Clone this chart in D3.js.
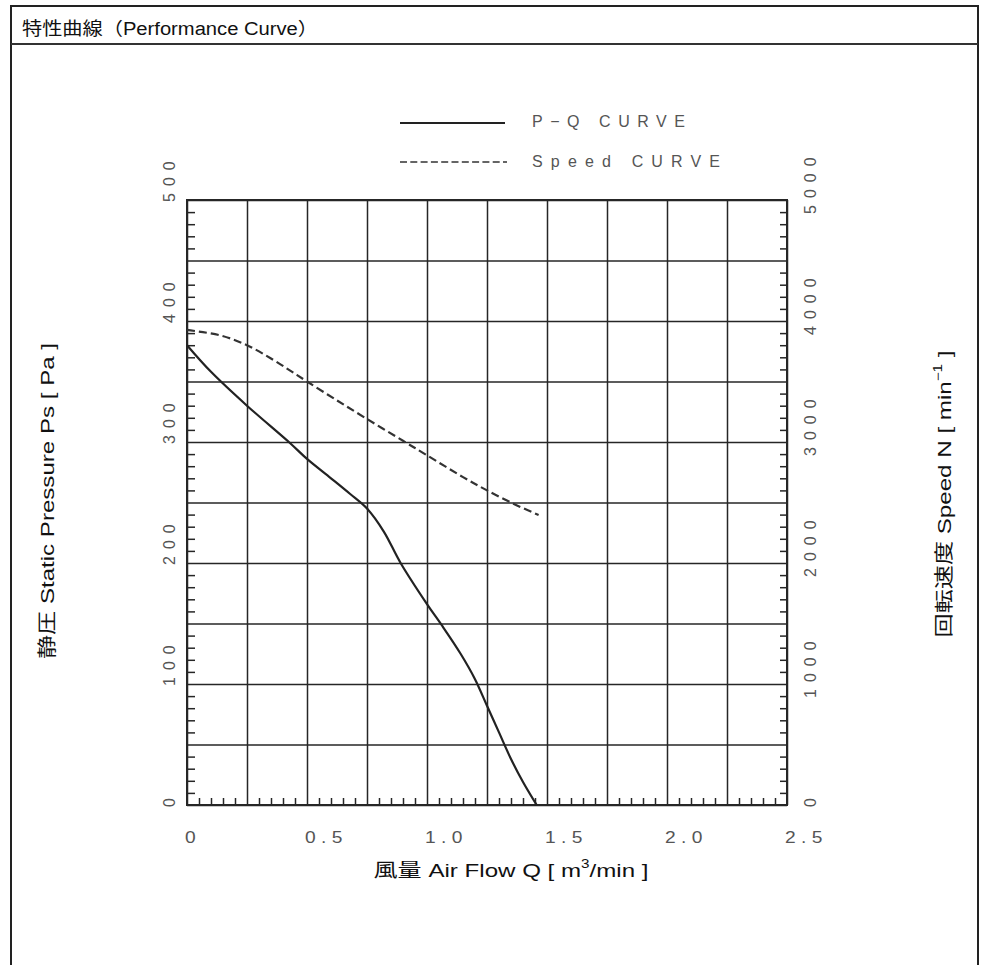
<!DOCTYPE html>
<html>
<head>
<meta charset="utf-8">
<script src="https://cdn.jsdelivr.net/npm/d3@7"></script>
<style>
  body { margin: 0; background: #fff; }
</style>
</head>
<body>
<div id="chart"></div>
<script>
// values
const flowTicks = [0, 0.5, 1.0, 1.5, 2.0, 2.5];
const flowLabels = ["0", "0.5", "1.0", "1.5", "2.0", "2.5"];
const pressTicks = [0, 100, 200, 300, 400, 500];
const speedTicks = [0, 1000, 2000, 3000, 4000, 5000];

// P-Q curve (Q m3/min, Ps Pa)
const pqFlow =     [0,   0.1, 0.25, 0.43, 0.5, 0.6, 0.68, 0.75, 0.82, 0.89, 1.0, 1.06, 1.14, 1.2, 1.25, 1.3, 1.35, 1.4, 1.457];
const pqPressure = [380, 358, 330,  299,  286, 270, 257,  245,  226,  200,  166, 149,  125,  104, 82,   60,  38,   19,  0];

// speed curve (Q m3/min, N min-1)
const spFlow =  [0,    0.14, 0.25, 0.35, 0.43, 0.5,  0.62, 0.75, 0.9,  1.0,  1.15, 1.25, 1.36, 1.465];
const spSpeed = [3926, 3880, 3800, 3690, 3590, 3500, 3350, 3190, 3010, 2890, 2710, 2600, 2490, 2397];

const legendNames = ["P\u2212Q  CURVE", "Speed  CURVE"];

// frame
const W = 987, H = 965;
const PLOT = {left: 187, right: 787, top: 200, bottom: 805};

const svg = d3.select('#chart')
  .append('svg')
  .attr('width', W)
  .attr('height', H);

const FONT = '"Liberation Sans", Arial, "Noto Sans CJK JP", sans-serif';

// outer box + title row
svg.append('rect')
  .attr('x', 11).attr('y', 6)
  .attr('width', 967).attr('height', 990)
  .attr('fill', 'none')
  .attr('stroke', '#222')
  .attr('stroke-width', 2);
svg.append('line')
  .attr('x1', 11).attr('x2', 978)
  .attr('y1', 44).attr('y2', 44)
  .attr('stroke', '#333')
  .attr('stroke-width', 2);
svg.append('text')
  .attr('x', 22).attr('y', 35)
  .attr('font-family', FONT)
  .attr('font-size', 18)
  .attr('fill', '#111')
  .attr('textLength', 296)
  .attr('lengthAdjust', 'spacingAndGlyphs')
  .text('特性曲線（Performance Curve）');

// scales
const x = d3.scaleLinear().domain([0, 2.5]).range([PLOT.left, PLOT.right]);
const yP = d3.scaleLinear().domain([0, 500]).range([PLOT.bottom, PLOT.top]);
const yN = d3.scaleLinear().domain([0, 5000]).range([PLOT.bottom, PLOT.top]);

const GRID = '#262626';

// grid lines
svg.append('g')
  .attr('transform', `translate(0,${PLOT.bottom})`)
  .call(d3.axisBottom(x).tickValues(d3.range(0, 11).map(i => i * 0.25))
    .tickSize(-(PLOT.bottom - PLOT.top)).tickFormat(''))
  .call(g => g.select('.domain').remove())
  .selectAll('line').attr('stroke', GRID).attr('stroke-width', 1.5);

svg.append('g')
  .attr('transform', `translate(${PLOT.left},0)`)
  .call(d3.axisLeft(yP).tickValues(d3.range(0, 11).map(i => i * 50))
    .tickSize(-(PLOT.right - PLOT.left)).tickFormat(''))
  .call(g => g.select('.domain').remove())
  .selectAll('line').attr('stroke', GRID).attr('stroke-width', 1.5);

// minor ticks, pointing inward
const minorP = d3.range(0, 501, 10).filter(v => v % 50 !== 0);
const minorN = d3.range(0, 5001, 100).filter(v => v % 500 !== 0);
const minorQ = d3.range(0, 51).map(i => i * 0.05).filter((v, i) => i % 5 !== 0);

svg.append('g')
  .attr('transform', `translate(${PLOT.left},0)`)
  .call(d3.axisLeft(yP).tickValues(minorP).tickSize(-8).tickFormat(''))
  .call(g => g.select('.domain').remove())
  .selectAll('line').attr('stroke', GRID).attr('stroke-width', 1.5);

svg.append('g')
  .attr('transform', `translate(${PLOT.right},0)`)
  .call(d3.axisRight(yN).tickValues(minorN).tickSize(-7).tickFormat(''))
  .call(g => g.select('.domain').remove())
  .selectAll('line').attr('stroke', GRID).attr('stroke-width', 1.5);

svg.append('g')
  .attr('transform', `translate(0,${PLOT.bottom})`)
  .call(d3.axisBottom(x).tickValues(minorQ).tickSize(-7).tickFormat(''))
  .call(g => g.select('.domain').remove())
  .selectAll('line').attr('stroke', GRID).attr('stroke-width', 1.5);

// plot border
svg.append('rect')
  .attr('x', PLOT.left).attr('y', PLOT.top)
  .attr('width', PLOT.right - PLOT.left)
  .attr('height', PLOT.bottom - PLOT.top)
  .attr('fill', 'none')
  .attr('stroke', GRID)
  .attr('stroke-width', 2);

// tick labels (plotter style, wide and spaced out)
const TICK = '#555';
svg.append('g').selectAll('text')
  .data(flowTicks)
  .join('text')
  .attr('transform', d => `translate(${x(d) - 2},843) scale(1.2,1)`)
  .attr('font-family', FONT)
  .attr('font-size', 16)
  .attr('letter-spacing', 4.5)
  .attr('fill', TICK)
  .text((d, i) => flowLabels[i]);

svg.append('g').selectAll('text')
  .data(pressTicks)
  .join('text')
  .attr('transform', d => `translate(175,${yP(d) + 2}) rotate(-90)`)
  .attr('font-family', FONT)
  .attr('font-size', 16)
  .attr('letter-spacing', 7)
  .attr('fill', TICK)
  .text(d => d);

svg.append('g').selectAll('text')
  .data(speedTicks)
  .join('text')
  .attr('transform', d => `translate(816,${yN(d) + (d === 0 ? 2 : 14)}) rotate(-90)`)
  .attr('font-family', FONT)
  .attr('font-size', 16)
  .attr('letter-spacing', 7)
  .attr('fill', TICK)
  .text(d => d);

// curves
const pqData = pqFlow.map((q, i) => ({q: q, v: pqPressure[i]}));
const spData = spFlow.map((q, i) => ({q: q, v: spSpeed[i]}));

svg.append('path')
  .datum(pqData)
  .attr('fill', 'none')
  .attr('stroke', '#222')
  .attr('stroke-width', 2.2)
  .attr('d', d3.line()
    .x(d => x(d.q))
    .y(d => yP(d.v))
    .curve(d3.curveCatmullRom.alpha(0.5)));

svg.append('path')
  .datum(spData)
  .attr('fill', 'none')
  .attr('stroke', '#333')
  .attr('stroke-width', 2.2)
  .attr('stroke-dasharray', '8,4')
  .attr('d', d3.line()
    .x(d => x(d.q))
    .y(d => yN(d.v))
    .curve(d3.curveCatmullRom.alpha(0.5)));

// legend
const legend = svg.append('g');
legend.append('line')
  .attr('x1', 400).attr('x2', 505).attr('y1', 123).attr('y2', 123)
  .attr('stroke', '#222').attr('stroke-width', 2);
legend.append('line')
  .attr('x1', 400).attr('x2', 507).attr('y1', 162).attr('y2', 162)
  .attr('stroke', '#333').attr('stroke-width', 1.6)
  .attr('stroke-dasharray', '7,3.3');
legend.selectAll('text.lg')
  .data(legendNames)
  .join('text')
  .attr('class', 'lg')
  .attr('x', 532)
  .attr('y', (d, i) => i === 0 ? 127 : 167)
  .attr('font-family', FONT)
  .attr('font-size', 16)
  .attr('fill', TICK)
  .attr('textLength', (d, i) => i === 0 ? 153 : 188)
  .attr('lengthAdjust', 'spacing')
  .text(d => d);

// axis titles
svg.append('text')
  .attr('transform', 'translate(54,501) rotate(-90)')
  .attr('text-anchor', 'middle')
  .attr('font-family', FONT)
  .attr('font-size', 19)
  .attr('fill', '#111')
  .attr('textLength', 316)
  .attr('lengthAdjust', 'spacingAndGlyphs')
  .text('静圧 Static Pressure Ps [ Pa ]');

const rt = svg.append('text')
  .attr('transform', 'translate(951,494) rotate(-90)')
  .attr('text-anchor', 'middle')
  .attr('font-family', FONT)
  .attr('font-size', 19)
  .attr('fill', '#111')
  .attr('textLength', 287)
  .attr('lengthAdjust', 'spacingAndGlyphs');
rt.append('tspan').text('回転速度 Speed N [ min');
rt.append('tspan').attr('dy', -9).attr('font-size', 12).text('\u22121');
rt.append('tspan').attr('dy', 9).text(' ]');

const bt = svg.append('text')
  .attr('x', 511).attr('y', 877)
  .attr('text-anchor', 'middle')
  .attr('font-family', FONT)
  .attr('font-size', 19)
  .attr('fill', '#111')
  .attr('textLength', 275)
  .attr('lengthAdjust', 'spacingAndGlyphs');
bt.append('tspan').text('風量 Air Flow Q [ m');
bt.append('tspan').attr('dy', -9).attr('font-size', 12).text('3');
bt.append('tspan').attr('dy', 9).text('/min ]');
</script>
</body>
</html>
